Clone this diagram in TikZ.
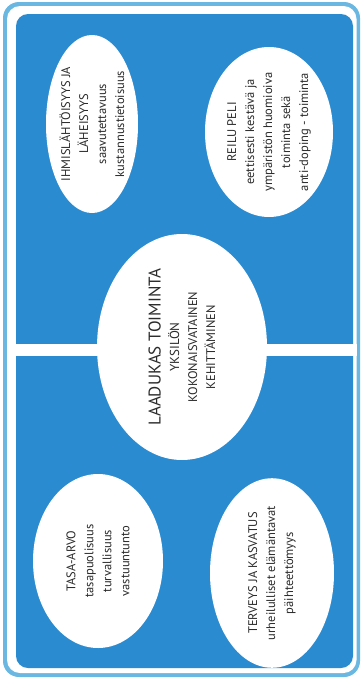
\documentclass[tikz,border=0pt]{standalone}
\usepackage{fontspec}
\setmainfont{PT Sans}
\usetikzlibrary{shapes.geometric}
\definecolor{signblue}{HTML}{2A8BD0}
\definecolor{rimblue}{HTML}{6AB7E2}
\definecolor{labelgray}{HTML}{2B2B2B}
\newcommand{\nl}{\\[2.5pt]}

\begin{document}
\begin{tikzpicture}[x=1pt, y=-1pt,
    valuebox/.style={ellipse, fill=white, inner sep=0pt, rotate=90, align=center,
      text=labelgray, font=\fontsize{12.5}{15.5}\selectfont}]
  \useasboundingbox (0,0) rectangle (360,678);

  % Draw frame
  \fill[rimblue, rounded corners=16pt] (3,2) rectangle (360,677);
  \fill[white, rounded corners=13pt] (7,6) rectangle (356.5,673);
  \fill[signblue, rounded corners=12pt] (16,14) rectangle (353,668);

  % Draw divider
  \fill[white] (7,344) rectangle (356.5,356);

  % Add values
  \node[valuebox, minimum width=178pt, minimum height=92pt] (humane) at (92,124)
    {IHMISLÄHTÖISYYS JA\nl LÄHEISYYS\nl saavutettavuus\nl kustannustietoisuus};
  \node[valuebox, minimum width=170pt, minimum height=128pt] (fairplay) at (269,132)
    {REILU PELI\nl eettisesti kestävä ja\nl ympäristön huomioiva\nl toiminta sekä\nl anti-doping - toiminta};
  \node[valuebox, minimum width=174pt, minimum height=130pt] (equality) at (98,561)
    {TASA-ARVO\nl tasapuolisuus\nl turvallisuus\nl vastuuntunto};
  \node[valuebox, minimum width=160pt, minimum height=124pt] (health) at (272,573)
    {TERVEYS JA KASVATUS\nl urheilulliset elämäntavat\nl päihteettömyys};

  % Add core
  \node[valuebox, minimum width=226pt, minimum height=170pt] (quality) at (182,347)
    {{\fontsize{17}{19}\selectfont LAADUKAS TOIMINTA}\\[3pt]\fontsize{13}{16}\selectfont YKSILÖN\nl KOKONAISVATAINEN\nl KEHITTÄMINEN};
\end{tikzpicture}
\end{document}
